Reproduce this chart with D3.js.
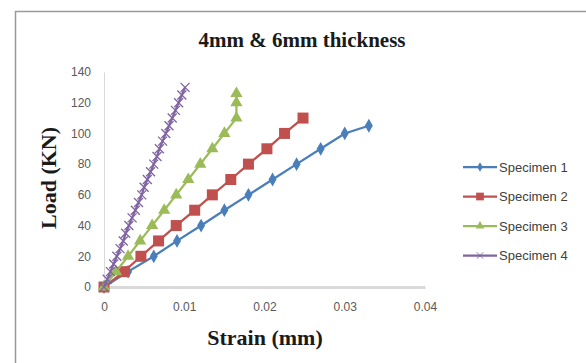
<!DOCTYPE html>
<html>
<head>
<meta charset="utf-8">
<script src="https://cdn.jsdelivr.net/npm/d3@7"></script>
<style>
  body { margin: 0; background: #fff; }
  svg { display: block; }
</style>
</head>
<body>
<svg width="586" height="363"></svg>
<script>
const seriesNames = ['Specimen 1', 'Specimen 2', 'Specimen 3', 'Specimen 4'];

const s1Load = [0, 10, 20, 30, 40, 50, 60, 70, 80, 90, 100, 105];
const s1Strain = [0, 0.003, 0.0062, 0.0091, 0.0121, 0.015, 0.018, 0.021, 0.024, 0.027, 0.030, 0.033];

const s2Load = [0, 10, 20, 30, 40, 50, 60, 70, 80, 90, 100, 110];
const s2Strain = [0, 0.0025, 0.0046, 0.0068, 0.009, 0.0113, 0.0135, 0.0158, 0.018, 0.0203, 0.0225, 0.0248];

const s3Load = [0, 10, 20, 30, 40, 50, 60, 70, 80, 90, 100, 110, 120, 126];
const s3Strain = [0, 0.0015, 0.003, 0.0045, 0.006, 0.0075, 0.009, 0.0105, 0.012, 0.0135, 0.015, 0.0165, 0.0165, 0.0165];

const s4Load = [0, 5, 10, 15, 20, 25, 30, 35, 40, 45, 50, 55, 60, 65, 70, 75, 80, 85, 90, 95, 100, 105, 110, 115, 120, 125, 130];
const s4Strain = [0, 0.0004, 0.0008, 0.0012, 0.0016, 0.002, 0.0024, 0.0027, 0.0031, 0.0035, 0.0039, 0.0043, 0.0047, 0.005, 0.0054, 0.0058, 0.0062, 0.0066, 0.0069, 0.0073, 0.0077, 0.0081, 0.0085, 0.0089, 0.0093, 0.0097, 0.0101];

const xTicks = [0, 0.01, 0.02, 0.03, 0.04];
const yTicks = [0, 20, 40, 60, 80, 100, 120, 140];

const colors = ['#4a7ebb', '#c0504d', '#9bbb59', '#8064a2'];
const markers = ['diamond', 'square', 'triangle', 'cross'];

const series = [
  [s1Strain, s1Load],
  [s2Strain, s2Load],
  [s3Strain, s3Load],
  [s4Strain, s4Load],
].map(([xs, ys], i) => ({
  name: seriesNames[i],
  color: colors[i],
  marker: markers[i],
  points: xs.map((x, j) => ({ x, y: ys[j] })),
}));

const svg = d3.select('svg');

const x = d3.scaleLinear().domain([0, 0.04]).range([104, 425]);
const y = d3.scaleLinear().domain([0, 140]).range([287, 72]);

// chart frame
svg.append('path')
  .attr('d', 'M15.5,363 V11.5 H586')
  .attr('fill', 'none')
  .attr('stroke', '#9a9a9a')
  .attr('stroke-width', 1.5);

svg.append('text')
  .attr('x', 302)
  .attr('y', 47)
  .attr('text-anchor', 'middle')
  .attr('font-family', 'Liberation Serif')
  .attr('font-weight', 'bold')
  .attr('font-size', 21)
  .attr('fill', '#1a1a1a')
  .text('4mm & 6mm thickness');

// axes
const yAxis = svg.append('g')
  .attr('transform', `translate(${x(0)},0)`)
  .call(d3.axisLeft(y).tickValues(yTicks).tickSize(0).tickPadding(13));
yAxis.select('.domain').attr('stroke', '#d9d9d9').attr('stroke-width', 1);

const xAxis = svg.append('g')
  .attr('transform', `translate(0,${y(0)})`)
  .call(d3.axisBottom(x).tickValues(xTicks).tickSize(0).tickPadding(15).tickFormat(d3.format('')));
xAxis.select('.domain').attr('stroke', '#d9d9d9').attr('stroke-width', 3);

svg.selectAll('.tick text')
  .attr('font-family', 'Liberation Sans')
  .attr('font-size', 12)
  .attr('fill', '#595959');

svg.append('text')
  .attr('x', 265)
  .attr('y', 345)
  .attr('text-anchor', 'middle')
  .attr('font-family', 'Liberation Serif')
  .attr('font-weight', 'bold')
  .attr('font-size', 22)
  .attr('fill', '#1a1a1a')
  .text('Strain (mm)');

svg.append('text')
  .attr('transform', 'translate(56,178) rotate(-90)')
  .attr('text-anchor', 'middle')
  .attr('font-family', 'Liberation Serif')
  .attr('font-weight', 'bold')
  .attr('font-size', 22)
  .attr('fill', '#1a1a1a')
  .text('Load (KN)');

function drawMarker(g, type, color) {
  if (type === 'diamond') {
    g.append('path').attr('d', d3.symbol(d3.symbolDiamond, 55)()).attr('fill', color);
  } else if (type === 'square') {
    g.append('rect').attr('x', -5.5).attr('y', -5.5).attr('width', 11).attr('height', 11).attr('fill', color);
  } else if (type === 'triangle') {
    g.append('path').attr('d', d3.symbol(d3.symbolTriangle, 65)()).attr('fill', color);
  } else {
    g.append('path').attr('d', 'M-4.5,-4.5L4.5,4.5M-4.5,4.5L4.5,-4.5')
      .attr('stroke', color).attr('stroke-width', 1.3).attr('fill', 'none');
  }
}

const line = d3.line().x((d) => x(d.x)).y((d) => y(d.y));

const groups = svg.selectAll('g.series')
  .data(series)
  .join('g')
  .attr('class', 'series');

groups.append('path')
  .attr('d', (d) => line(d.points))
  .attr('fill', 'none')
  .attr('stroke', (d) => d.color)
  .attr('stroke-width', 2.25);

groups.each(function (s) {
  d3.select(this).selectAll('g.pt')
    .data(s.points)
    .join('g')
    .attr('class', 'pt')
    .attr('transform', (d) => `translate(${x(d.x)},${y(d.y)})`)
    .each(function () { drawMarker(d3.select(this), s.marker, s.color); });
});

// legend
const legend = svg.append('g')
  .selectAll('g')
  .data(series)
  .join('g')
  .attr('transform', (d, i) => `translate(463,${167 + i * 29.5})`);

legend.append('line')
  .attr('x1', 0).attr('x2', 34)
  .attr('stroke', (d) => d.color)
  .attr('stroke-width', 2.25);

legend.append('g')
  .attr('transform', 'translate(17,0) scale(0.7)')
  .each(function (d) { drawMarker(d3.select(this), d.marker, d.color); });

legend.append('text')
  .attr('x', 36)
  .attr('dy', '0.35em')
  .attr('font-family', 'Liberation Sans')
  .attr('font-size', 13)
  .attr('fill', '#404040')
  .text((d) => d.name);
</script>
</body>
</html>
